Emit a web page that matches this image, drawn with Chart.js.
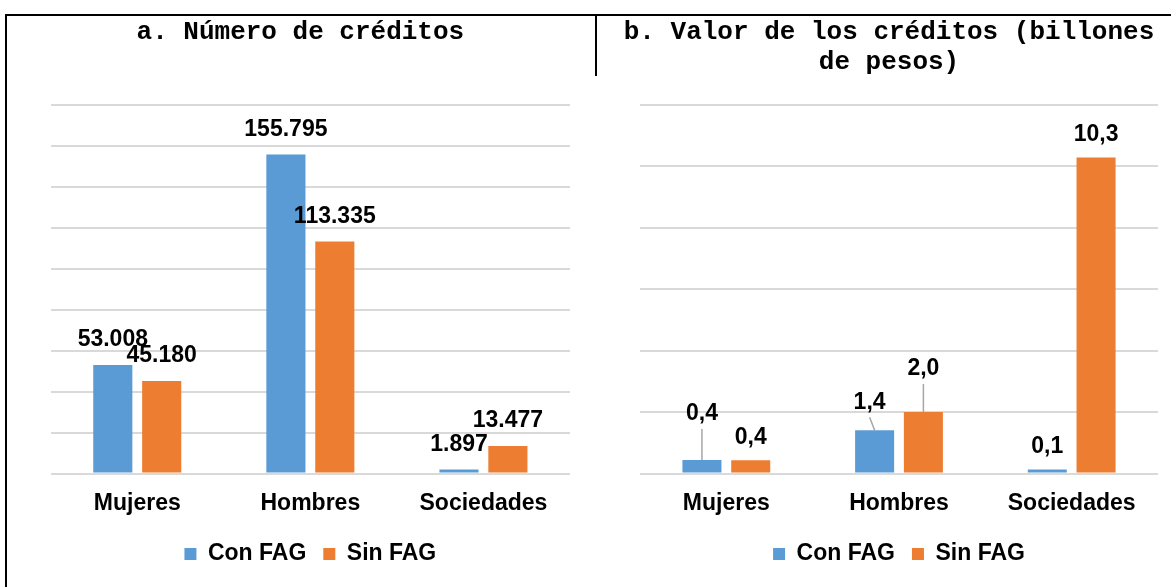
<!DOCTYPE html>
<html>
<head>
<meta charset="utf-8">
<script src="https://cdn.jsdelivr.net/npm/chart.js@4.4.1/dist/chart.umd.min.js"></script>
<style>
  html, body { margin: 0; padding: 0; background: #fff; }
  #page { position: relative; width: 1171px; height: 587px; overflow: hidden; }
  .panel { position: absolute; top: 0; height: 587px; }
  #panel-a { left: 0; width: 596px; }
  #panel-b { left: 596px; width: 575px; }
  .rule { position: absolute; background: #000; }
</style>
</head>
<body>
<div id="page">
  <div class="panel" id="panel-a"><canvas id="chart-a"></canvas></div>
  <div class="panel" id="panel-b"><canvas id="chart-b"></canvas></div>
  <div class="rule" style="left:5px; top:14px; width:1166px; height:2px"></div>
  <div class="rule" style="left:5px; top:14px; width:2px; height:573px"></div>
  <div class="rule" style="left:595px; top:14px; width:2px; height:62px"></div>
</div>
<script>
const categories = ["Mujeres", "Hombres", "Sociedades"];
const seriesNames = ["Con FAG", "Sin FAG"];

// a. Número de créditos
const numeroConFag = [53008, 155795, 1897];
const numeroSinFag = [45180, 113335, 13477];
const numeroMax = 180000;
const numeroStep = 20000;

// b. Valor de los créditos (billones de pesos)
const valorConFag = [0.44, 1.41, 0.13];
const valorSinFag = [0.43, 2.0, 10.29];
const valorMax = 12;
const valorStep = 2;

const BLUE = "#5b9bd5";
const ORANGE = "#ed7d31";
const GRID = "#d9d9d9";
const SANS = "Arial, 'Liberation Sans', sans-serif";
const MONO = "'Courier New', 'Liberation Mono', monospace";

Chart.defaults.font.family = SANS;
Chart.defaults.color = "#000";

const formatters = {
  miles: (v) => String(v).replace(/\B(?=(\d{3})+(?!\d))/g, "."),
  decimal: (v) => v.toFixed(1).replace(".", ",")
};

// value labels above the bars, some pushed up with a leader line
const barLabelsPlugin = {
  id: "barLabels",
  afterDatasetsDraw(chart, _args, opts) {
    const { ctx } = chart;
    const format = formatters[opts.format];
    const leaders = opts.leaders || [];
    ctx.save();
    ctx.font = `bold 23px ${SANS}`;
    ctx.textAlign = "center";
    ctx.textBaseline = "middle";
    chart.data.datasets.forEach((dataset, di) => {
      chart.getDatasetMeta(di).data.forEach((bar, i) => {
        const leader = leaders.find((l) => l.dataset === di && l.index === i);
        const x = bar.x + (leader ? leader.dx : 0);
        const y = bar.y - opts.lift - (leader ? leader.extra : 0);
        if (leader) {
          ctx.strokeStyle = "#a6a6a6";
          ctx.lineWidth = 1.5;
          ctx.beginPath();
          ctx.moveTo(x, y + 15);
          ctx.lineTo(bar.x, bar.y);
          ctx.stroke();
        }
        ctx.fillStyle = "#000";
        ctx.fillText(format(dataset.data[i]), x, y);
      });
    });
    ctx.restore();
  }
};

function buildChart(canvas, cfg) {
  return new Chart(canvas, {
    type: "bar",
    plugins: [barLabelsPlugin],
    data: {
      labels: categories,
      datasets: [
        { label: seriesNames[0], data: cfg.conFag, backgroundColor: BLUE },
        { label: seriesNames[1], data: cfg.sinFag, backgroundColor: ORANGE }
      ]
    },
    options: {
      responsive: true,
      maintainAspectRatio: false,
      animation: false,
      layout: {
        padding: { top: 16.5, bottom: 11.5, left: cfg.padLeft, right: cfg.padRight }
      },
      datasets: {
        bar: { categoryPercentage: 0.565, barPercentage: 0.8 }
      },
      plugins: {
        title: {
          display: true,
          text: cfg.title,
          color: "#000",
          font: { family: MONO, size: 26, weight: "bold", lineHeight: 1.19 },
          padding: { top: 0, bottom: cfg.titleGap }
        },
        legend: {
          position: "bottom",
          fullSize: false,
          labels: {
            boxWidth: 12,
            boxHeight: 12,
            padding: 17,
            color: "#000",
            font: { size: 23, weight: "bold" }
          }
        },
        tooltip: { enabled: false },
        barLabels: { format: cfg.format, lift: cfg.lift, leaders: cfg.leaders }
      },
      scales: {
        x: {
          grid: { display: false },
          border: { display: false },
          ticks: { color: "#000", padding: 8, font: { size: 23, weight: "bold" } },
          afterFit(scale) {
            scale.height = 52;
          }
        },
        y: {
          min: 0,
          max: cfg.max,
          ticks: { display: false, stepSize: cfg.step },
          border: { display: false },
          grid: { color: GRID, lineWidth: 2, drawTicks: false },
          afterFit(scale) {
            scale.width = 20;
          }
        }
      }
    }
  });
}

buildChart(document.querySelector("#chart-a"), {
  title: "a. Número de créditos",
  titleGap: 57.5,
  conFag: numeroConFag,
  sinFag: numeroSinFag,
  max: numeroMax,
  step: numeroStep,
  format: "miles",
  lift: 25,
  leaders: [],
  padLeft: 30.7,
  padRight: 26
});

buildChart(document.querySelector("#chart-b"), {
  title: ["b. Valor de los créditos (billones", "de pesos)"],
  titleGap: 26.5,
  conFag: valorConFag,
  sinFag: valorSinFag,
  max: valorMax,
  step: valorStep,
  format: "decimal",
  lift: 23,
  leaders: [
    { dataset: 0, index: 0, extra: 23, dx: 0 },
    { dataset: 0, index: 1, extra: 5, dx: -5 },
    { dataset: 1, index: 1, extra: 20, dx: 0 }
  ],
  padLeft: 24,
  padRight: 13
});
</script>
</body>
</html>
